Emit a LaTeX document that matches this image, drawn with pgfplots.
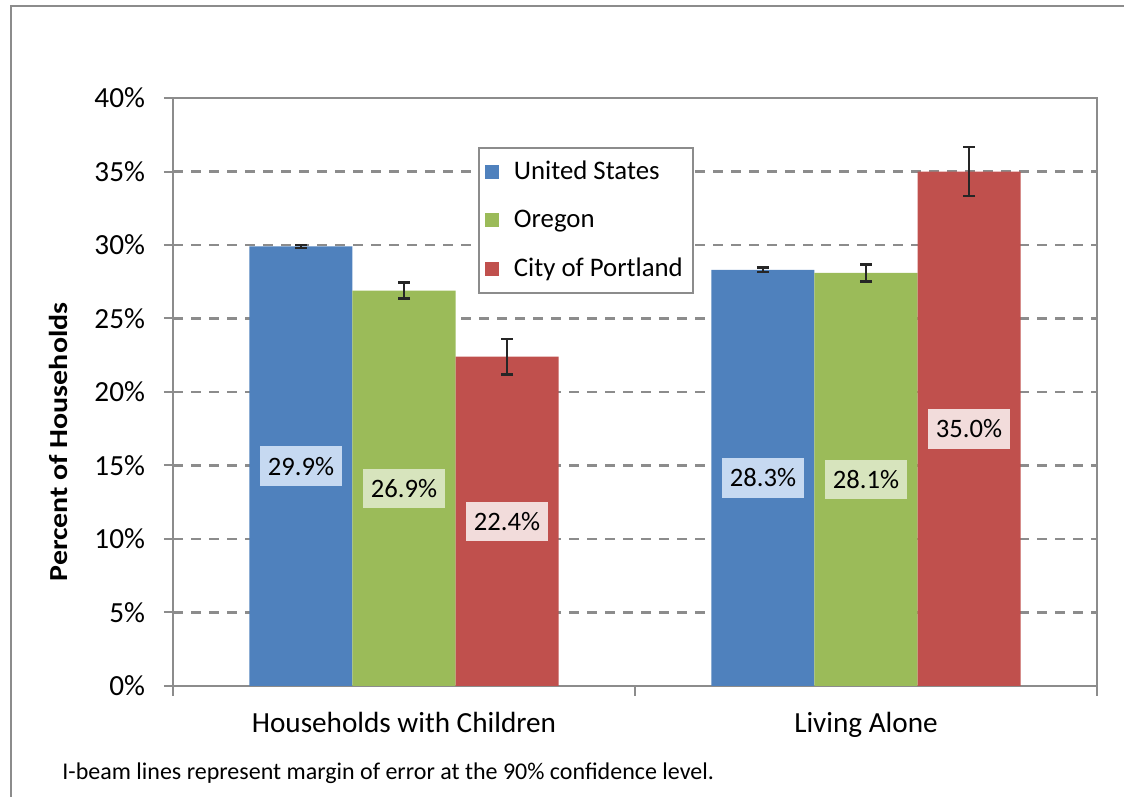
\documentclass[border=0pt]{standalone}
\usepackage{pgfplots}
\pgfplotsset{compat=1.18}
\usepackage{pgfplotstable}
\usepackage{graphicx}
\usepackage{fontspec}
\setmainfont{Carlito}
\definecolor{usblue}{HTML}{4F81BD}
\definecolor{orgreen}{HTML}{9BBB59}
\definecolor{pdxred}{HTML}{C0504D}
\definecolor{uslab}{HTML}{C6D9F1}
\definecolor{orlab}{HTML}{D7E4BD}
\definecolor{pdxlab}{HTML}{F2DCDB}
\definecolor{axgray}{HTML}{8C8C8C}
\definecolor{errgray}{HTML}{262626}

\pgfplotstableread{
x v e
0 29.9 0.10
1 28.3 0.15
}\usdata
\pgfplotstableread{
x v e
0 26.9 0.55
1 28.1 0.58
}\ordata
\pgfplotstableread{
x v e
0 22.4 1.20
1 35.0 1.67
}\pdxdata

\begin{document}
\begin{tikzpicture}
\useasboundingbox (0,0) rectangle (562pt,398.5pt);
\draw[axgray, line width=1.2pt] (5.5pt,-2pt) -- (5.5pt,395.5pt) -- (564pt,395.5pt);
\begin{axis}[
  at={(86.5pt,55.5pt)}, anchor=south west,
  scale only axis, width=462pt, height=294pt,
  ybar=0pt, bar width=0.223,
  xmin=-0.5, xmax=1.5, ymin=0, ymax=40,
  xtick={0,1}, xticklabels={Households with Children, Living Alone},
  minor xtick={-0.5,0.5,1.5},
  major x tick style={draw=none},
  ytick={0,5,...,40},
  yticklabel={\pgfmathprintnumber{\tick}\%},
  /pgf/number format/assume math mode=true,
  ytick pos=left, xtick pos=bottom,
  tick align=outside, major tick length=4.5pt, minor tick length=5pt,
  tick style={axgray, line width=1pt},
  axis line style={axgray, line width=1pt},
  ymajorgrids, grid style={axgray, line width=1.1pt, dash pattern=on 5pt off 4pt},
  tick label style={font=\fontsize{14.6}{16}\selectfont, text=black},
  yticklabel style={xshift=-6pt},
  xticklabel style={yshift=-5pt},
  ylabel={\scalebox{1.15}[1]{Percent of Households}},
  ylabel style={at={(rel axis cs:-0.124,0.415)}, anchor=center, font=\bfseries\fontsize{13}{14}\selectfont},
  legend style={at={(rel axis cs:0.330,0.917)}, anchor=north west, draw=axgray, line width=1pt,
    font=\fontsize{13.4}{15}\selectfont, row sep=9.8pt, inner xsep=3pt, inner ysep=4.5pt},
  legend cell align=left,
  nodes near coords={\pgfmathprintnumber[fixed,fixed zerofill,precision=1]{\pgfplotspointmeta}\%},
  visualization depends on={\thisrow{v} \as \barval},
  error bars/y dir=both, error bars/y explicit,
  error bars/error bar style={line width=1.3pt, color=errgray},
  error bars/error mark options={rotate=90, mark size=3pt, line width=1.3pt, color=errgray},
]
\addplot[fill=usblue, draw=none,
  legend image code/.code={\fill[usblue] (0pt,-3.5pt) rectangle (7pt,3.5pt); \path (12.5pt,0pt);},
  nodes near coords style={anchor=center, yshift=-3.675pt*\barval, fill=uslab, text=black, inner xsep=4pt, inner ysep=5.3pt, font=\fontsize{13.3}{15}\selectfont}]
  table[x=x, y=v, y error=e] {\usdata};
\addplot[fill=orgreen, draw=none,
  legend image code/.code={\fill[orgreen] (0pt,-3.5pt) rectangle (7pt,3.5pt); \path (12.5pt,0pt);},
  nodes near coords style={anchor=center, yshift=-3.675pt*\barval, fill=orlab, text=black, inner xsep=4pt, inner ysep=5.3pt, font=\fontsize{13.3}{15}\selectfont}]
  table[x=x, y=v, y error=e] {\ordata};
\addplot[fill=pdxred, draw=none,
  legend image code/.code={\fill[pdxred] (0pt,-3.5pt) rectangle (7pt,3.5pt); \path (12.5pt,0pt);},
  nodes near coords style={anchor=center, yshift=-3.675pt*\barval, fill=pdxlab, text=black, inner xsep=4pt, inner ysep=5.3pt, font=\fontsize{13.3}{15}\selectfont}]
  table[x=x, y=v, y error=e] {\pdxdata};
\legend{United States, Oregon, City of Portland}
\end{axis}
\node[anchor=base west, font=\fontsize{12}{13}\selectfont, inner sep=0pt] at (31pt,8.5pt) {I-beam lines represent margin of error at the 90\% confidence level.};
\end{tikzpicture}
\end{document}
